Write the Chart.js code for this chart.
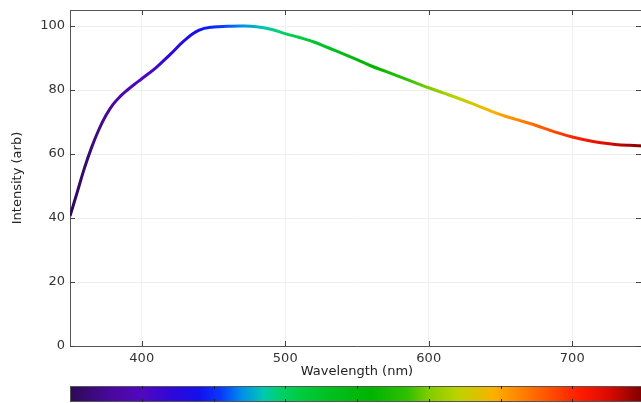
<!DOCTYPE html>
<html>
<head>
<meta charset="utf-8">
<script src="https://cdn.jsdelivr.net/npm/chart.js@4/dist/chart.umd.min.js"></script>
<style>
  html, body { margin: 0; padding: 0; background: #fff; overflow: hidden; }
  #wrap { width: 646px; height: 403px; }
</style>
</head>
<body>
<div id="wrap"><canvas id="specChart"></canvas></div>
<script>
// spectrum
const wavelengths = [350, 355, 360, 365, 370, 375, 380, 385, 390, 395, 400, 410, 420, 430, 440, 450, 460, 470, 480, 490, 500,
  510, 520, 530, 540, 550, 560, 570, 580, 590, 600, 610, 620, 630, 640, 650, 660, 670, 680, 690, 700, 710, 720, 730, 740, 750];
const intensity = [40.6, 48, 55.5, 62, 67.5, 72, 75.5, 78, 80, 81.8, 83.5, 87, 91.2, 95.6, 98.7, 99.7, 99.9, 100, 99.8, 99.0, 97.6,
  96.4, 95, 93.2, 91.4, 89.5, 87.5, 85.8, 84.1, 82.4, 80.7, 79.1, 77.5, 75.8, 74.0, 72.3, 70.9, 69.6, 68.1, 66.6, 65.3, 64.3, 63.5, 63, 62.7, 62.5];
const xTicks = [400, 500, 600, 700];
const yTicks = [0, 20, 40, 60, 80, 100];
const cbTicks = [400, 450, 500, 550, 600, 650, 700];

// colour map wavelength -> colour
const cmapNm = [350, 380, 400, 420, 440, 455, 470, 485, 495, 510, 530, 560, 585, 600, 620, 635, 645, 665, 690, 705, 725, 750];
const cmapCol = ['#2d0a55', '#4a08a0', '#5008c0', '#3008d8', '#1410ee', '#0838ff', '#0090e8', '#00c8b0', '#00d070', '#00cc40',
  '#00c020', '#00b400', '#30c000', '#80cc00', '#bcd200', '#e0c000', '#fcb000', '#ff8000', '#ff4000', '#ff1c00', '#dd0a00', '#7a0000'];

function spectrumGradient(chart) {
  const x = chart.scales.x;
  const x0 = x.getPixelForValue(350), x1 = x.getPixelForValue(750);
  const g = chart.ctx.createLinearGradient(x0, 0, x1, 0);
  for (let i = 0; i < cmapNm.length; i++) {
    g.addColorStop((cmapNm[i] - 350) / 400, cmapCol[i]);
  }
  return g;
}

const boxPlugin = {
  id: 'boxPlugin',
  afterDraw(chart) {
    const ctx = chart.ctx, a = chart.chartArea;
    const x = chart.scales.x, y = chart.scales.y;
    ctx.save();
    ctx.strokeStyle = '#555';
    ctx.lineWidth = 1;
    ctx.beginPath();
    ctx.moveTo(a.left, a.top + 0.5); ctx.lineTo(a.right, a.top + 0.5);
    ctx.moveTo(a.right - 0.5, a.top); ctx.lineTo(a.right - 0.5, a.bottom);
    ctx.stroke();
    ctx.strokeStyle = '#444';
    ctx.beginPath();
    xTicks.forEach(v => {
      const px = Math.round(x.getPixelForValue(v)) + 0.5;
      ctx.moveTo(px, a.bottom); ctx.lineTo(px, a.bottom - 5);
      ctx.moveTo(px, a.top); ctx.lineTo(px, a.top + 5);
    });
    yTicks.forEach(v => {
      const py = Math.round(y.getPixelForValue(v)) + 0.5;
      ctx.moveTo(a.left, py); ctx.lineTo(a.left + 5, py);
      ctx.moveTo(641, py); ctx.lineTo(636, py);
    });
    ctx.stroke();

    // colour bar
    const cx0 = x.getPixelForValue(350), cx1 = x.getPixelForValue(750);
    const cy0 = 386, cy1 = 402;
    ctx.fillStyle = spectrumGradient(chart);
    ctx.fillRect(cx0, cy0, cx1 - cx0, cy1 - cy0);
    ctx.strokeStyle = '#555';
    ctx.strokeRect(Math.round(cx0) + 0.5, cy0 + 0.5, cx1 - cx0, cy1 - cy0 - 1);
    ctx.strokeStyle = '#222';
    ctx.beginPath();
    cbTicks.forEach(v => {
      const px = Math.round(x.getPixelForValue(v)) + 0.5;
      ctx.moveTo(px, cy0); ctx.lineTo(px, cy0 + 3);
      ctx.moveTo(px, cy1); ctx.lineTo(px, cy1 - 3);
    });
    ctx.stroke();
    ctx.restore();
  }
};

const points = wavelengths.map((w, i) => ({x: w, y: intensity[i]}));
const font = {family: 'DejaVu Sans', size: 13};

new Chart(document.getElementById('specChart').getContext('2d'), {
  type: 'line',
  data: {
    datasets: [{
      data: points,
      borderColor: function(context) {
        if (!context.chart.chartArea) return '#5008c0';
        return spectrumGradient(context.chart);
      },
      borderWidth: 3,
      pointRadius: 0,
      tension: 0.4,
      fill: false
    }]
  },
  options: {
    responsive: true,
    maintainAspectRatio: false,
    animation: false,
    devicePixelRatio: 1,
    layout: {padding: {top: 10, right: 2, left: 0, bottom: 0}},
    plugins: {legend: {display: false}, tooltip: {enabled: false}},
    scales: {
      x: {
        type: 'linear',
        min: 350, max: 750,
        afterBuildTicks: s => { s.ticks = xTicks.map(v => ({value: v})); },
        afterFit: s => { s.height = 57; s.paddingLeft = 0; s.paddingRight = 0; },
        grid: {color: '#efefef', drawTicks: false},
        border: {color: '#555'},
        ticks: {color: '#333', font: font, padding: 5, maxRotation: 0},
        title: {display: true, text: 'Wavelength (nm)', color: '#222', font: font, padding: {top: 0, bottom: 24}}
      },
      y: {
        min: 0, max: 105,
        afterBuildTicks: s => { s.ticks = yTicks.map(v => ({value: v})); },
        afterFit: s => { s.width = 70; s.paddingTop = 0; s.paddingBottom = 0; },
        grid: {color: '#efefef', drawTicks: false},
        border: {color: '#555'},
        ticks: {color: '#333', font: font, padding: 5},
        title: {display: true, text: 'Intensity (arb)', color: '#222', font: font, padding: {top: 10, bottom: 0}}
      }
    }
  },
  plugins: [boxPlugin]
});
</script>
</body>
</html>
